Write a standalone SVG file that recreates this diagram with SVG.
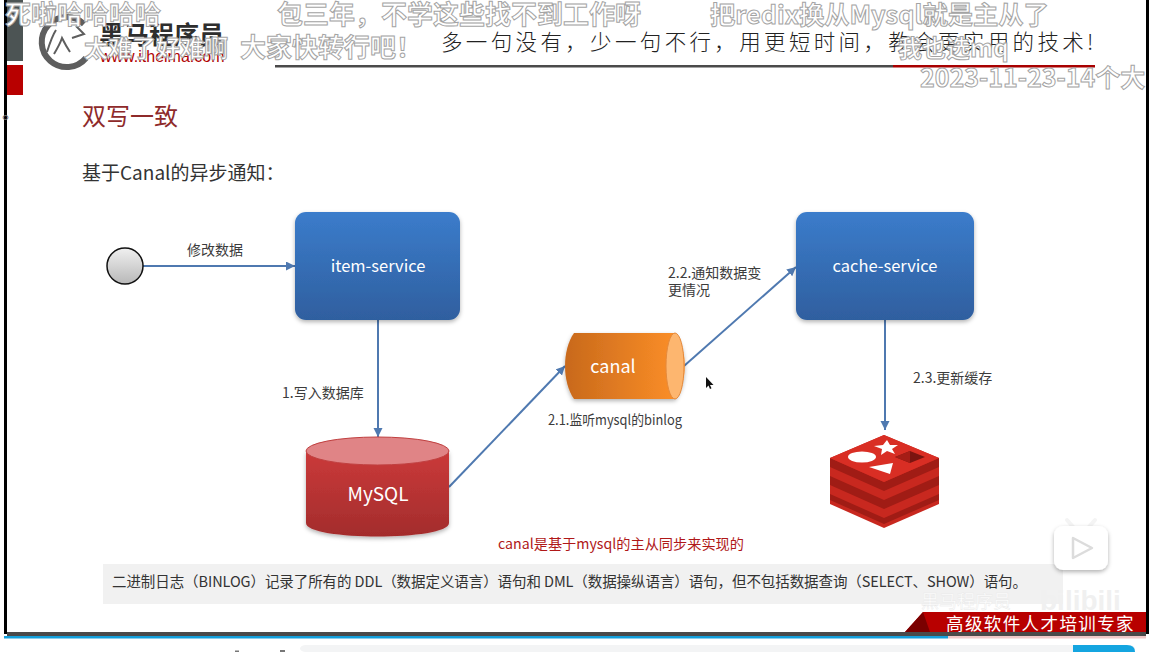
<svg xmlns="http://www.w3.org/2000/svg" width="1162" height="652" viewBox="0 0 1162 652">
<style>
text{font-family:"Noto Sans CJK SC","Noto Sans",sans-serif}
.lbl{font-size:14px;fill:#3c3c3c}
.nd{font-size:16.5px;fill:#fff;text-anchor:middle}
.dm{font-size:26px;fill:#fff;stroke:#a4a4a4;stroke-width:1;font-weight:700}
.ln{fill:none;stroke:#4f79b0;stroke-width:2;marker-end:url(#ah)}
.top{fill:#d92e24}.sd{fill:#a01c15}.lo{fill:#c8281f}
</style>
<defs>
<marker id="ah" markerUnits="userSpaceOnUse" markerWidth="10" markerHeight="10" refX="9" refY="4.500" orient="auto"><path d="M0 0L9 4.500L0 9Z" fill="#4f79b0"/></marker>
<linearGradient id="bl" x1="0" y1="0" x2="0" y2="1"><stop offset="0" stop-color="#3b7ccb"/><stop offset="1" stop-color="#2f5f9f"/></linearGradient>
<linearGradient id="rd" x1="0" y1="0" x2="0" y2="1"><stop offset="0" stop-color="#cb3a3a"/><stop offset="1" stop-color="#a32c2c"/></linearGradient>
<linearGradient id="or" x1="0" y1="0" x2="1" y2="0"><stop offset="0" stop-color="#c8691c"/><stop offset="1" stop-color="#ff9128"/></linearGradient>
<linearGradient id="gr" x1="0" y1="0" x2="0" y2="1"><stop offset="0" stop-color="#f0f0f0"/><stop offset="1" stop-color="#b8b8b8"/></linearGradient>
<filter id="sh" x="-10%" y="-10%" width="120%" height="125%"><feDropShadow dx="0" dy="2" stdDeviation="2" flood-color="#000" flood-opacity=".3"/></filter>
</defs>
<rect width="1162" height="652" fill="#fff"/>
<g id="slide-frame">
<rect x="4" y="0" width="3" height="634" fill="#000"/>
<rect x="1146" y="0" width="3" height="634" fill="#000"/>
<rect x="7" y="0" width="16" height="61" fill="#4c5454"/>
<rect x="7" y="65" width="16" height="30" fill="#b80000"/>
<rect x="275" y="65" width="618" height="2.500" fill="#4a4a4a"/>
<rect x="893" y="65" width="202" height="2.500" fill="#a80000"/>
<rect x="7" y="632" width="1139" height="4" fill="#4a4a4a"/>
<rect x="4" y="636" width="944" height="2.500" fill="#14a0dc"/>
<rect x="948" y="636" width="198" height="2.500" fill="#f0c8c8"/>
<rect x="300" y="645" width="835" height="7" rx="6" fill="#f3f4f5"/>
<path d="M1073 645H1127Q1135 645 1135 652H1073Z" fill="#14a5e0"/>
<path d="M235 652V650.500H239V652ZM280 652V650H285V652Z" fill="#777"/>
</g>
<g id="logo">
<path d="M84 24A25 25 0 1 0 86 58" fill="none" stroke="#5e5e5e" stroke-width="6"/>
<path d="M47 52Q52 36 56 30M54 54Q60 44 62 38Q66 46 70 52M76 26L84 34L72 38" fill="none" stroke="#5e5e5e" stroke-width="2"/>
<text x="99" y="44" font-size="25" font-weight="700" fill="#2e2e2e">黑马程序员</text>
<text x="100" y="62" font-size="16" fill="#b00000" style="font-family:'Liberation Sans',sans-serif">www.itheima.com</text>
</g>
<text id="slogan" x="441" y="50" font-size="21.500" letter-spacing="3.350" fill="#222" style="font-weight:300">多一句没有，少一句不行，用更短时间，教会更实用的技术!</text>
<text id="title" x="82" y="125" font-size="24" fill="#8e2a2a">双写一致</text>
<text id="subtitle" x="82" y="180" font-size="19" fill="#333">基于Canal的异步通知：</text>
<g id="connectors">
<path class="ln" d="M143 266H295"/>
<path class="ln" d="M378 320V437"/>
<path class="ln" d="M449 487L565 366"/>
<path class="ln" d="M684 366L796 267"/>
<path class="ln" d="M885 320V430"/>
</g>
<g id="start"><circle cx="125" cy="266" r="18" fill="url(#gr)" stroke="#111" stroke-width="1.500"/></g>
<g id="item-service"><rect x="295" y="212" width="165" height="108" rx="11" fill="url(#bl)" filter="url(#sh)"/><text class="nd" x="378" y="272">item-service</text></g>
<g id="cache-service"><rect x="796" y="212" width="178" height="108" rx="11" fill="url(#bl)" filter="url(#sh)"/><text class="nd" x="885" y="272">cache-service</text></g>
<g id="mysql">
<path d="M306 451V523C306 541 449 541 449 523V451Z" fill="url(#rd)" filter="url(#sh)"/>
<ellipse cx="377.500" cy="451" rx="71.500" ry="14" fill="#e08486" stroke="#c04040"/>
<text class="nd" x="378" y="501" style="font-size:19px">MySQL</text>
</g>
<g id="canal">
<path d="M574 333H675C688 350 688 382 675 399H574C562 382 562 350 574 333Z" fill="url(#or)" filter="url(#sh)"/>
<ellipse cx="675" cy="366" rx="9" ry="33" fill="#fdb66f" stroke="#e58a3c"/>
<text class="nd" x="613" y="373" style="font-size:18px">canal</text>
</g>
<g id="redis">
<path class="lo" d="M830 458L884 435L939 458V504L884 528L830 504Z"/>
<path class="sd" d="M830 458L884 482L939 458V467L884 491L830 467Z"/>
<path class="sd" d="M830 476L884 500L939 476V485L884 509L830 485Z"/>
<path class="sd" d="M830 494L884 518L939 494V500L884 524L830 500Z"/>
<path class="top" d="M830 458L884 435L939 458L884 482Z"/>
<ellipse cx="862" cy="457" rx="14" ry="5.500" fill="#fff"/>
<path d="M869 467L893 463L890 474Z" fill="#fff"/>
<path d="M887 440L890 445L898 445L892 449L895 454L887 451L881 455L882 449L874 446L883 445Z" fill="#fff"/>
<path d="M895 457L910 451L925 457L910 463Z" fill="#7a1410"/>
<path d="M895 457L910 451V463Z" fill="#a51d16"/>
</g>
<g id="labels">
<text class="lbl" x="187" y="255">修改数据</text>
<text class="lbl" x="282" y="398">1.写入数据库</text>
<text class="lbl" x="548" y="425" textLength="134" lengthAdjust="spacingAndGlyphs">2.1.监听mysql的binlog</text>
<text class="lbl" x="668" y="278">2.2.通知数据变</text>
<text class="lbl" x="668" y="295">更情况</text>
<text class="lbl" x="913" y="383">2.3.更新缓存</text>
<text x="498" y="549" font-size="14.200" fill="#b01818">canal是基于mysql的主从同步来实现的</text>
</g>
<path id="cursor" d="M706 377V388L708.500 385.500L710 389L711.500 388.300L710 385H713.500Z" fill="#111"/>
<g id="note">
<rect x="103" y="564" width="960" height="40" fill="#f1f1f1"/>
<text x="112" y="587" font-size="14.500" fill="#333" textLength="915">二进制日志（BINLOG）记录了所有的 DDL（数据定义语言）语句和 DML（数据操纵语言）语句，但不包括数据查询（SELECT、SHOW）语句。</text>
</g>
<g id="footer">
<text x="1040" y="610" font-size="28" font-weight="700" fill="#f0f0f0" style="font-family:'Liberation Sans',sans-serif">bilibili</text>
<path d="M905 632L923 612H1146V632Z" fill="#b80000"/>
<path d="M905 632L923 612L930 632Z" fill="#7a0000"/>
<text x="946" y="630" font-size="17.500" fill="#fff" letter-spacing="1.400">高级软件人才培训专家</text>
<text x="921" y="608" font-size="18" fill="#fff" stroke="#e8e8e8" stroke-width=".4">黑马程序员</text>
</g>
<g id="play">
<path d="M1067 520L1074 528M1095 520L1088 528" stroke="#f4f4f4" stroke-width="4" stroke-linecap="round"/>
<rect x="1054" y="526" width="54" height="44" rx="9" fill="#fff" filter="url(#sh)"/>
<path d="M1073 538L1092 548L1073 558Z" fill="#fff" stroke="#dcdcdc" stroke-width="2.500" stroke-linejoin="round"/>
</g>
<g id="danmaku">
<text class="dm" x="5" y="24">死啦哈哈哈哈</text>
<text class="dm" x="277" y="24">包三年，不学这些找不到工作呀</text>
<text class="dm" x="710" y="24" style="font-size:25.300px">把redix换从Mysql就是主从了</text>
<text class="dm" x="84" y="57" style="font-size:24px">太难了好难啊</text>
<text class="dm" x="240" y="57">大家快转行吧！</text>
<text class="dm" x="898" y="57" style="font-size:24px">我也选mq</text>
<text class="dm" x="920" y="87" style="font-size:25px">2023-11-23-14个大</text>
</g>
<text x="2" y="119" font-size="18" fill="#666">。</text>
</svg>
